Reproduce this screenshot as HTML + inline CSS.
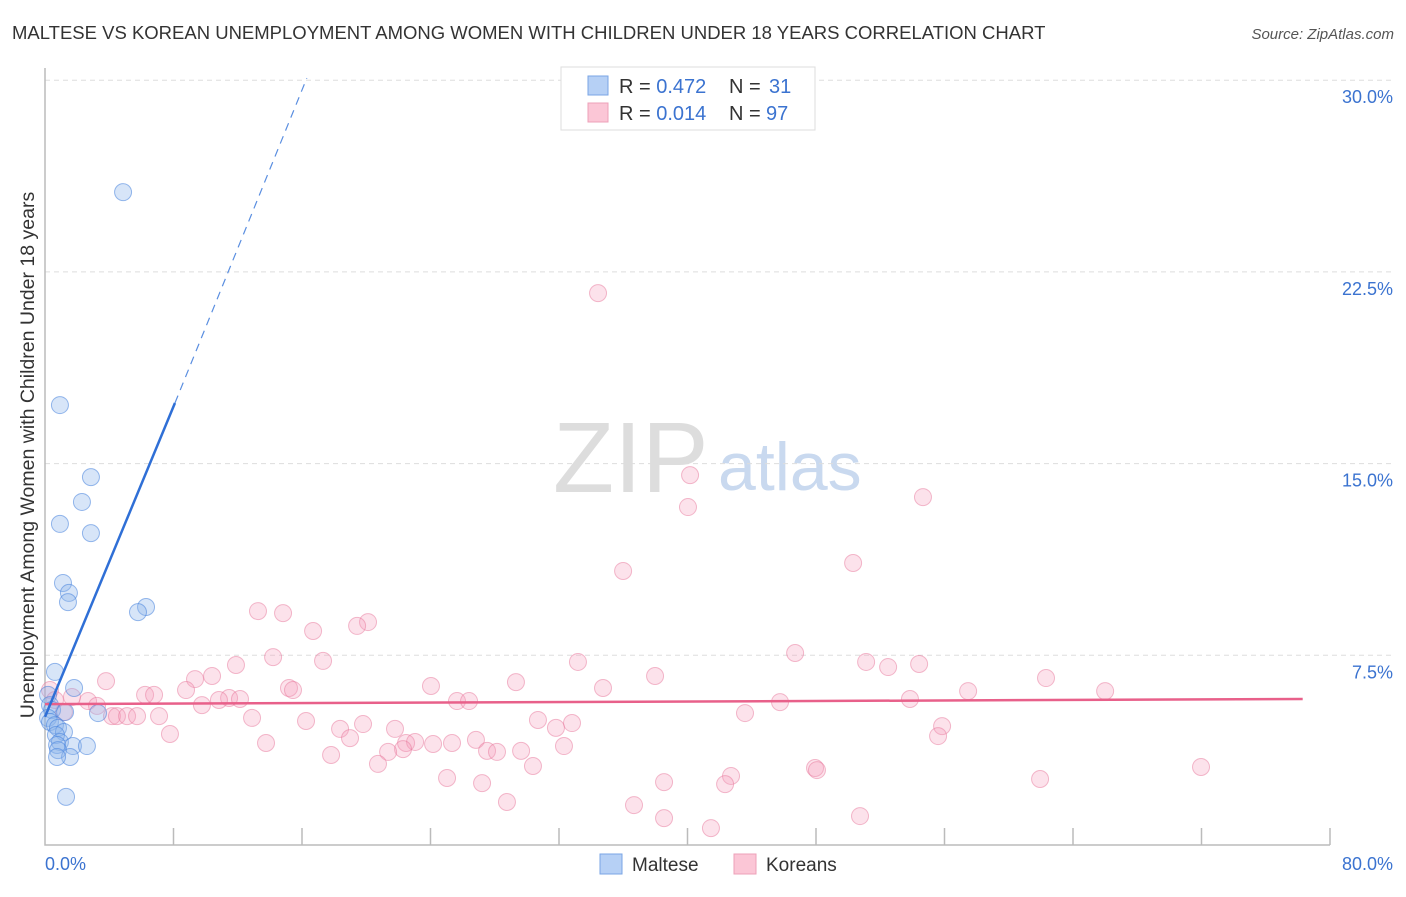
<!DOCTYPE html>
<html><head><meta charset="utf-8"><style>
body{margin:0;background:#fff;font-family:"Liberation Sans",sans-serif}
svg text{font-family:"Liberation Sans",sans-serif}
</style></head><body>
<svg id="chart" width="1406" height="892" xmlns="http://www.w3.org/2000/svg">
<text x="12" y="39" font-size="18.5" fill="#333">MALTESE VS KOREAN UNEMPLOYMENT AMONG WOMEN WITH CHILDREN UNDER 18 YEARS CORRELATION CHART</text>
<text x="1394" y="39" font-size="15" fill="#555" font-style="italic" text-anchor="end">Source: ZipAtlas.com</text>
<g>
<text x="553" y="492" font-size="100" fill="#ddd" font-family="Liberation Serif,serif">ZIP</text>
<text x="718" y="490" font-size="68" fill="#c9d9ef">atlas</text>
</g>
<g id="grid"></g>
<g id="axes"></g>
<g id="marks"></g>
<g>
<rect x="561" y="67" width="254" height="63" fill="#fff" stroke="#ddd"/>
<rect x="588" y="76" width="20" height="19" fill="#b6d0f5" stroke="#7aa5e5"/>
<rect x="588" y="103" width="20" height="19" fill="#fbc6d6" stroke="#eea0b8"/>
<text x="619" y="93" font-size="20" fill="#333">R = <tspan fill="#3b73d0">0.472</tspan><tspan x="729">N = </tspan><tspan x="769" fill="#3b73d0">31</tspan></text>
<text x="619" y="120" font-size="20" fill="#333">R = <tspan fill="#3b73d0">0.014</tspan><tspan x="729">N = </tspan><tspan x="766" fill="#3b73d0">97</tspan></text>
</g>
<g>
<rect x="600" y="854" width="22" height="20" fill="#b6d0f5" stroke="#7aa5e5"/>
<text x="632" y="871" font-size="19" fill="#333">Maltese</text>
<rect x="734" y="854" width="22" height="20" fill="#fbc6d6" stroke="#eea0b8"/>
<text x="766" y="871" font-size="19" fill="#333">Koreans</text>
</g>
<text transform="translate(34,455) rotate(-90)" font-size="19.5" fill="#333" text-anchor="middle">Unemployment Among Women with Children Under 18 years</text>
</svg>
<script>
const yTicks=[7.5,15,22.5,30];
const yTickLabels=["7.5%","15.0%","22.5%","30.0%"];
const xTicks=[0,8,16,24,32,40,48,56,64,72,80];
const malteseX=[4.86,0.93,2.86,2.30,0.93,2.86,1.12,1.49,1.43,6.29,5.79,0.62,1.81,0.19,0.31,0.44,1.25,3.30,0.19,0.31,0.62,0.81,1.18,0.68,0.93,0.75,1.74,2.61,0.81,1.56,0.75,1.31];
const malteseY=[25.62,17.29,14.47,13.50,12.64,12.28,10.33,9.94,9.58,9.39,9.19,6.85,6.22,5.95,5.55,5.36,5.28,5.24,5.05,4.89,4.77,4.66,4.50,4.38,4.11,3.99,3.95,3.95,3.79,3.52,3.52,1.96];
const koreanX=[34.43,40.16,40.03,54.66,35.99,50.31,13.26,14.82,20.11,19.43,16.69,14.20,17.31,11.89,10.40,9.34,3.80,8.78,6.23,6.79,46.70,33.18,51.12,54.42,52.49,37.98,62.32,29.32,24.03,34.74,57.47,66.00,15.19,15.44,11.46,12.14,10.83,53.85,45.76,25.65,26.40,9.77,2.68,1.68,3.24,4.17,4.48,5.11,5.73,7.10,43.58,12.89,16.25,30.69,32.81,31.81,21.79,18.37,19.80,7.78,55.85,55.60,18.99,13.76,22.48,23.04,24.16,25.34,26.83,27.52,28.14,29.64,32.31,22.29,21.36,17.81,20.73,30.38,47.94,48.06,42.71,42.34,25.03,27.21,38.54,61.95,71.97,28.76,36.67,38.54,50.74,41.46,0.31,0.62,1.18];
const koreanY=[21.67,14.55,13.30,13.69,10.80,11.11,9.23,9.15,8.80,8.65,8.45,7.43,7.28,7.12,6.69,6.57,6.49,6.14,5.95,5.95,7.59,7.24,7.24,7.16,7.04,6.69,6.61,6.45,6.30,6.22,6.10,6.10,6.22,6.14,5.83,5.79,5.75,5.79,5.67,5.71,5.71,5.55,5.71,5.87,5.52,5.12,5.12,5.12,5.12,5.12,5.24,5.05,4.93,4.97,4.85,4.66,4.62,4.62,4.81,4.42,4.73,4.34,4.26,4.07,4.07,4.11,4.03,4.07,4.19,3.76,3.72,3.76,3.95,3.83,3.72,3.60,3.25,3.17,3.09,3.01,2.78,2.46,2.70,2.50,2.54,2.66,3.13,1.76,1.64,1.13,1.21,0.74,6.14,5.75,5.28];
const malteseTrend=[[0,5.09],[8.09,17.37],[16.3,30.08]];
const koreanTrend=[[0,5.59],[78.3,5.79]];
const NS="http://www.w3.org/2000/svg";
const X=v=>45+v/80*1285, Y=v=>847-v/7.5*191.7;
function mk(t,a,p){const e=document.createElementNS(NS,t);for(const k in a)e.setAttribute(k,a[k]);p.appendChild(e);return e;}
const grid=document.getElementById('grid'),axes=document.getElementById('axes'),marks=document.getElementById('marks');
yTicks.forEach((v,i)=>{
 const l=mk('line',{x1:45,x2:1393,y1:Y(v),y2:Y(v),stroke:'#ddd','stroke-dasharray':'5,4'},grid);
 
 
 const t=mk('text',{x:1393,y:Y(v)+23,'font-size':18,fill:'#3b73d0','text-anchor':'end'},axes);
 t.textContent=yTickLabels[i];
 
 
});
const ax=mk('path',{d:'M45,68 V845 H1330',fill:'none',stroke:'#bbb','stroke-width':1.5},axes);


xTicks.forEach(v=>{if(v===0)return;
 const l=mk('line',{x1:X(v),x2:X(v),y1:828,y2:845,stroke:'#bbb','stroke-width':1.5},axes);
 
 
});
[[0,"0.0%",'start',45],[80,"80.0%",'end',1393]].forEach(([v,s,a,x])=>{
 const t=mk('text',{x:x,y:870,'font-size':18,fill:'#3b73d0','text-anchor':a},axes);t.textContent=s;
 
 
});
koreanX.forEach((x,i)=>{
 const c=mk('circle',{cx:X(x),cy:Y(koreanY[i]),r:8.5,fill:'rgba(246,160,188,0.3)',stroke:'rgba(232,120,155,0.5)','stroke-width':1},marks);
 
 
});
malteseX.forEach((x,i)=>{
 const c=mk('circle',{cx:X(x),cy:Y(malteseY[i]),r:8.5,fill:'rgba(140,180,236,0.35)',stroke:'rgba(70,130,220,0.55)','stroke-width':1},marks);
 
 
});
const kt=mk('line',{x1:X(koreanTrend[0][0]),y1:Y(koreanTrend[0][1]),x2:X(koreanTrend[1][0]),y2:Y(koreanTrend[1][1]),stroke:'#e8608a','stroke-width':2.5},marks);


const mt=mk('line',{x1:X(malteseTrend[0][0]),y1:Y(malteseTrend[0][1]),x2:X(malteseTrend[1][0]),y2:Y(malteseTrend[1][1]),stroke:'#2f6fd6','stroke-width':2.5},marks);


const md=mk('line',{x1:X(malteseTrend[1][0]),y1:Y(malteseTrend[1][1]),x2:X(malteseTrend[2][0]),y2:Y(malteseTrend[2][1]),stroke:'#5a8ee0','stroke-width':1.2,'stroke-dasharray':'8,6'},marks);


</script>
</body></html>
